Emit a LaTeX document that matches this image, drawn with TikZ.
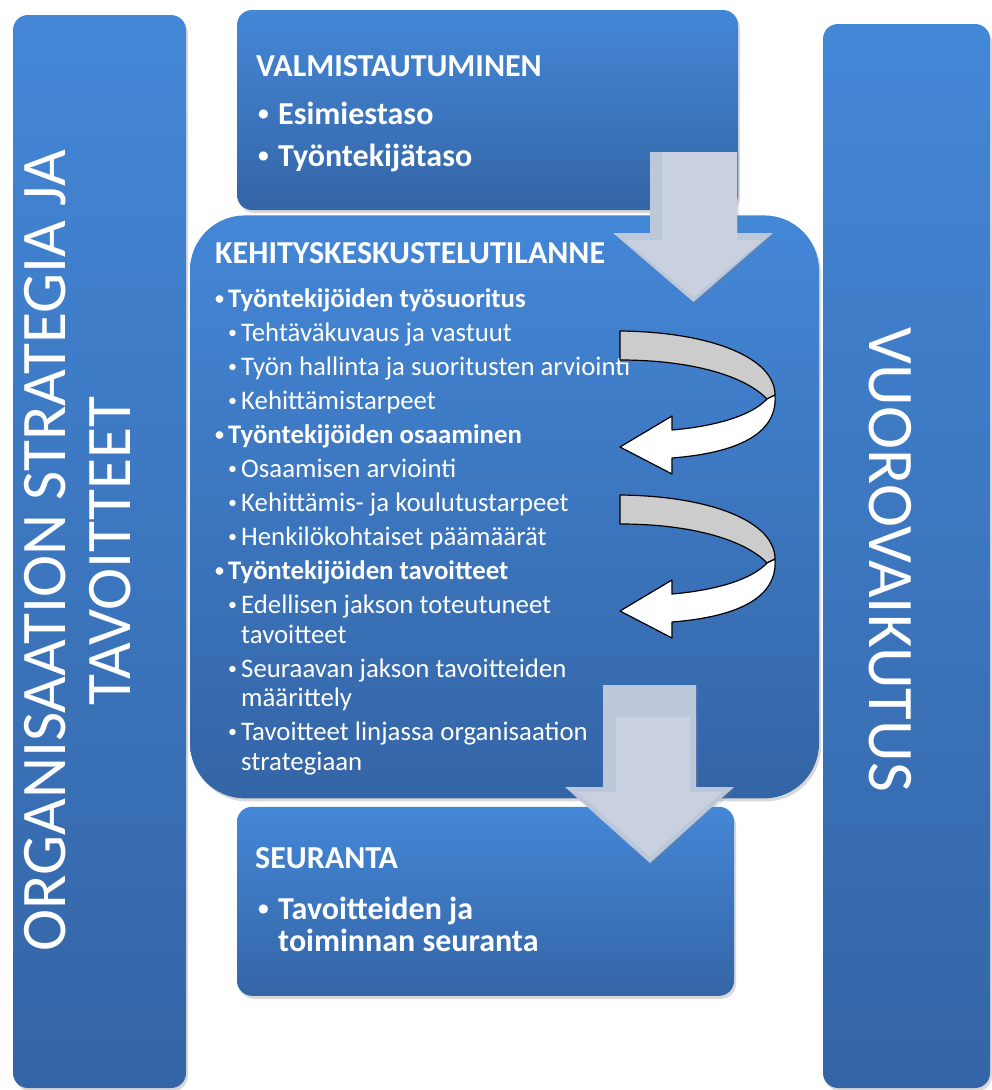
\documentclass[tikz,border=0pt]{standalone}
\usepackage{fontspec}
\usepackage{graphicx}
\setmainfont{Carlito}
\usetikzlibrary{positioning,shadows}

\definecolor{boxtop}{HTML}{4487D7}
\definecolor{boxbottom}{HTML}{3465A6}
\definecolor{arrowfill}{HTML}{C9D1E1}
\definecolor{arrowrim}{HTML}{BCC7DA}
\definecolor{bandgray}{HTML}{CCCCCC}

\newcommand{\listdot}{\raisebox{.1em}{\scalebox{.67}{•}}}
\newcommand{\bigbul}{\makebox[20pt][l]{\listdot}}
\newcommand{\smallbul}{\makebox[13pt][l]{\listdot}}

\begin{document}
\begin{tikzpicture}[x=1pt,y=-1pt,
	box/.style={rectangle,inner sep=0pt,top color=boxtop,bottom color=boxbottom,rounded corners=15pt,drop shadow={shadow xshift=2pt,shadow yshift=-3pt,opacity=.3}},
	sidetext/.style={inner sep=0pt,text=white,align=center,font=\fontsize{63.5}{65}\selectfont},
	heading/.style={inner sep=0pt,anchor=base west,text=white,font=\fontsize{32}{37}\selectfont\bfseries},
	toplist/.style={inner sep=0pt,anchor=base west,text=white,align=left,font=\fontsize{32}{42}\selectfont\bfseries},
	itemlist/.style={inner sep=0pt,anchor=base west,text=white,align=left,font=\fontsize{26.8}{34}\selectfont},
	blockarrow/.style={fill=arrowrim,drop shadow={shadow xshift=2pt,shadow yshift=-2pt,opacity=.2}},
	backband/.style={fill=bandgray,draw=black,line width=1.2pt,line join=round},
	frontband/.style={fill=white,draw=black,line width=1.2pt,line join=round}]
	\useasboundingbox (0,0) rectangle (991,1090);

	\node[box,minimum width=173pt,minimum height=1073pt]	(org)	at (99.5,551.5)	{};
	\node[box,minimum width=167pt,minimum height=1064pt]	(vuoro)	at (906.5,556)	{};
	\node[box,minimum width=501pt,minimum height=200pt]	(valm)	at (487.5,110)	{};
	\node[box,minimum width=629pt,minimum height=583pt,rounded corners=55pt,below=5pt of valm,xshift=17pt]	(kesk)	{};
	\node[box,minimum width=497pt,minimum height=189pt,below=8pt of kesk,xshift=-19pt]	(seur)	{};

	\node[sidetext,rotate=90]	(orgtext)	at (78,551)	{ORGANISAATION STRATEGIA JA\\TAVOITTEET};
	\node[sidetext,rotate=-90,font=\fontsize{65}{65}\selectfont]	(vuorotext)	at (890,560)	{VUOROVAIKUTUS};

	% monirivisen solmun base = viimeisen rivin perusviiva
	\node[heading]	(valmhead)	at (256,76)	{VALMISTAUTUMINEN};
	\node[toplist]	(valmlist)	at (258,166)	{\bigbul Esimiestaso\\\bigbul Työntekijätaso};

	\node[heading]	(keskhead)	at (215,263)	{KEHITYSKESKUSTELUTILANNE};
	\node[itemlist]	(kesklist)	at (215,770)	{%
		\textbf{\smallbul Työntekijöiden työsuoritus}\\
		\hspace*{13pt}\smallbul Tehtäväkuvaus ja vastuut\\
		\hspace*{13pt}\smallbul Työn hallinta ja suoritusten arviointi\\
		\hspace*{13pt}\smallbul Kehittämistarpeet\\
		\textbf{\smallbul Työntekijöiden osaaminen}\\
		\hspace*{13pt}\smallbul Osaamisen arviointi\\
		\hspace*{13pt}\smallbul Kehittämis- ja koulutustarpeet\\
		\hspace*{13pt}\smallbul Henkilökohtaiset päämäärät\\
		\textbf{\smallbul Työntekijöiden tavoitteet}\\
		\hspace*{13pt}\smallbul Edellisen jakson toteutuneet\\[-4.5pt]
		\hspace*{26pt}tavoitteet\\
		\hspace*{13pt}\smallbul Seuraavan jakson tavoitteiden\\[-4.5pt]
		\hspace*{26pt}määrittely\\
		\hspace*{13pt}\smallbul Tavoitteet linjassa organisaation\\[-4.5pt]
		\hspace*{26pt}strategiaan};

	\node[heading]	(seurhead)	at (255,868)	{SEURANTA};
	\node[toplist,font=\fontsize{32}{32}\selectfont\bfseries]	(seurlist)	at (258,951)	{\bigbul Tavoitteiden ja\\\hspace*{20pt}toiminnan seuranta};

	% kiertyvat nuolet
	\foreach \dy in {0,164}{
		\begin{scope}[shift={(0,\dy)}]
			\draw[backband] (620,331) .. controls (712,332) and (775,358) .. (775,395) -- (767,399) .. controls (745,376) and (692,360) .. (620,360) -- cycle;
			\draw[frontband] (767,399) -- (775,395) .. controls (778,435) and (735,453) .. (672,458) -- (672,474) -- (620,447) -- (672,416) -- (672,430) .. controls (718,426) and (752,415) .. (767,399) -- cycle;
		\end{scope}
	}

	% alaspain osoittavat nuolet
	\fill[blockarrow] (650,152) -- (737,152) -- (737,233) -- (773,233) -- (693.5,302) -- (613,233) -- (650,233) -- cycle;
	\fill[arrowfill] (662,152) -- (737,152) -- (737,240) -- (762,240) -- (693.5,297) -- (625,240) -- (662,240) -- cycle;
	\fill[blockarrow] (603,685) -- (696,685) -- (696,787) -- (734,787) -- (650,863) -- (565,787) -- (603,787) -- cycle;
	\fill[arrowfill] (616,717) -- (690,717) -- (690,792) -- (722,792) -- (650,857) -- (578,792) -- (616,792) -- cycle;
\end{tikzpicture}
\end{document}
